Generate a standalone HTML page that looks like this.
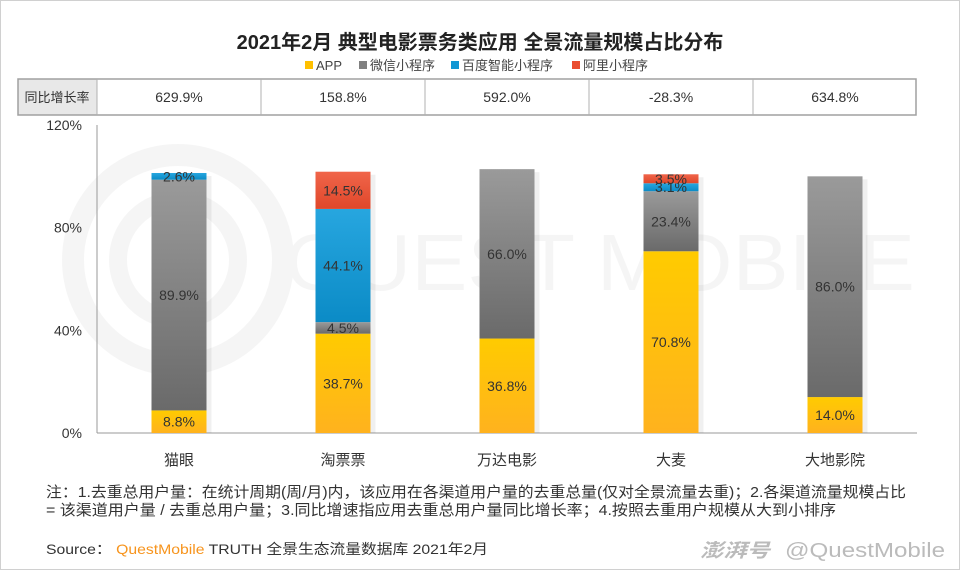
<!DOCTYPE html>
<html><head><meta charset="utf-8">
<style>
body{margin:0;width:960px;height:570px;overflow:hidden;background:#fff;font-family:"Liberation Sans","Noto Sans CJK SC",sans-serif;}
#wrap{position:absolute;left:0;top:0;width:958px;height:568px;border:1px solid #d0d0d0;}
</style></head><body>
<div id="wrap"></div>
<svg id="chart" width="960" height="570" style="position:absolute;left:0;top:0" font-family="Liberation Sans, Noto Sans CJK SC, sans-serif">
<defs>
<linearGradient id="gY" x1="0" y1="0" x2="0" y2="1"><stop offset="0" stop-color="#ffcb00"/><stop offset="1" stop-color="#ffb21e"/></linearGradient>
<linearGradient id="gG" x1="0" y1="0" x2="0" y2="1"><stop offset="0" stop-color="#9a9a9a"/><stop offset="1" stop-color="#6a6a6a"/></linearGradient>
<linearGradient id="gB" x1="0" y1="0" x2="0" y2="1"><stop offset="0" stop-color="#27a6df"/><stop offset="1" stop-color="#0b8bc6"/></linearGradient>
<linearGradient id="gR" x1="0" y1="0" x2="0" y2="1"><stop offset="0" stop-color="#f0654a"/><stop offset="1" stop-color="#e0472a"/></linearGradient>
</defs>
<g opacity="0.035" fill="none" stroke="#000">
<circle cx="178" cy="260" r="105" stroke-width="22"/>
<circle cx="178" cy="260" r="60" stroke-width="18"/>
<text x="285" y="290" font-size="80" fill="#000" stroke="none" textLength="630" lengthAdjust="spacingAndGlyphs">QUEST MOBILE</text>
</g>
<text x="480" y="49" text-anchor="middle" font-size="20" font-weight="bold" fill="#222">2021年2月 典型电影票务类应用 全景流量规模占比分布</text>
<g id="legend" font-size="13" fill="#444"></g>
<g id="table"></g>
<g id="axis"></g>
<g id="bars"></g>
<text x="46" y="497" font-size="15" fill="#333" textLength="860" lengthAdjust="spacingAndGlyphs">注：1.去重总用户量：在统计周期(周/月)内，该应用在各渠道用户量的去重总量(仅对全景流量去重)；2.各渠道流量规模占比</text>
<text x="46" y="515" font-size="15" fill="#333" textLength="790" lengthAdjust="spacingAndGlyphs">= 该渠道用户量 / 去重总用户量；3.同比增速指应用去重总用户量同比增长率；4.按照去重用户规模从大到小排序</text>
<text x="46" y="554" font-size="14" fill="#333" textLength="442" lengthAdjust="spacingAndGlyphs">Source： <tspan fill="#f7941d">QuestMobile</tspan> TRUTH 全景生态流量数据库 2021年2月</text>
<text x="700" y="557" font-size="19" fill="#bbb" font-style="italic" font-weight="bold" textLength="70" lengthAdjust="spacingAndGlyphs">澎湃号</text>
<text x="785" y="557" font-size="20" fill="#bbb" textLength="160" lengthAdjust="spacingAndGlyphs">@QuestMobile</text>
</svg>
<script>
const categories=["猫眼","淘票票","万达电影","大麦","大地影院"];
const seriesNames=["APP","微信小程序","百度智能小程序","阿里小程序"];
const appVals=[8.8,38.7,36.8,70.8,14.0];
const wechatVals=[89.9,4.5,66.0,23.4,86.0];
const baiduVals=[2.6,44.1,0,3.1,0];
const aliVals=[0,14.5,0,3.5,0];
const growth=["629.9%","158.8%","592.0%","-28.3%","634.8%"];
const yTicks=[0,40,80,120];
const NS="http://www.w3.org/2000/svg";
function mk(t,a,p){const e=document.createElementNS(NS,t);for(const k in a)e.setAttribute(k,a[k]);p.appendChild(e);return e;}
const y0=433,y1=125,vmax=120;
function y(v){return y0-(v/vmax)*(y0-y1);}
const x0=97,bw=164;
function xc(i){return x0+bw*(i+0.5);}
const fills=["url(#gY)","url(#gG)","url(#gB)","url(#gR)"];
const legColors=["#ffc000","#808080","#1196d4","#ea4d30"];
const lg=document.getElementById('legend');
const lx=[305,359,451,572];
seriesNames.forEach((n,i)=>{
 const g=mk('g',{},lg);
 
 
 mk('rect',{x:lx[i],y:61,width:8,height:8,fill:legColors[i]},g);
 const t=mk('text',{x:lx[i]+11,y:70,'font-size':13,fill:'#444'},g);t.textContent=n;
});
const tb=document.getElementById('table');
mk('rect',{x:18,y:79,width:79,height:36,fill:'#e8e8e8'},tb);
mk('rect',{x:18,y:79,width:898,height:36,fill:'none',stroke:'#a0a0a0','stroke-width':1.5},tb);
let ht=mk('text',{x:57,y:102,'text-anchor':'middle','font-size':13,fill:'#333'},tb);ht.textContent="同比增长率";


growth.forEach((g,i)=>{
 mk('line',{x1:x0+bw*i,x2:x0+bw*i,y1:79,y2:115,stroke:'#b0b0b0'},tb);
 const t=mk('text',{x:xc(i),y:102,'text-anchor':'middle','font-size':14,fill:'#333'},tb);t.textContent=g;
 
 
});
const ax=document.getElementById('axis');
mk('line',{x1:x0,x2:x0,y1:y1,y2:y0,stroke:'#999'},ax);
mk('line',{x1:x0,x2:x0+bw*5,y1:y0,y2:y0,stroke:'#999'},ax);
yTicks.forEach(v=>{const t=mk('text',{x:82,y:y(v)+5,'text-anchor':'end','font-size':14,fill:'#333'},ax);t.textContent=v+"%";
 
 });
categories.forEach((c,i)=>{const t=mk('text',{x:xc(i),y:465,'text-anchor':'middle','font-size':15,fill:'#333'},ax);t.textContent=c;
 
 });
const bg=document.getElementById('bars');
const all=[appVals,wechatVals,baiduVals,aliVals];
categories.forEach((c,i)=>{
 let acc=0;const w=55,xl=xc(i)-w/2;
 const tot=all.reduce((s,a)=>s+a[i],0);
 mk('rect',{x:xl+w,y:y(tot)+3,width:5,height:y0-y(tot)-3,fill:'#000',opacity:0.06},bg);
 all.forEach((arr,s)=>{
  const v=arr[i];if(!v)return;
  const r=mk('rect',{x:xl,y:y(acc+v),width:w,height:y(acc)-y(acc+v),fill:fills[s]},bg);
  
  
  const t=mk('text',{x:xc(i),y:(y(acc)+y(acc+v))/2+5,'text-anchor':'middle','font-size':14,fill:'#333'},bg);
  t.textContent=v.toFixed(1)+"%";
  
  
  acc+=v;
 });
});
</script>
</body></html>
